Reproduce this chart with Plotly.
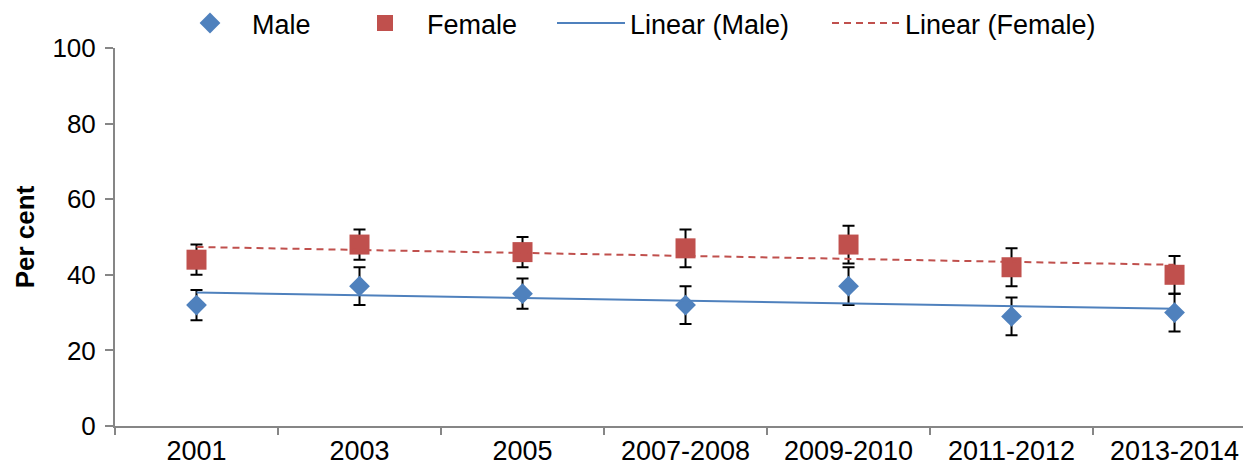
import numpy as np
import plotly.graph_objects as go

categories = ["2001", "2003", "2005", "2007-2008", "2009-2010", "2011-2012", "2013-2014"]
male = [32, 37, 35, 32, 37, 29, 30]
male_err = [4, 5, 4, 5, 5, 5, 5]
female = [44, 48, 46, 47, 48, 42, 40]
female_err = [4, 4, 4, 5, 5, 5, 5]

BLUE = "#4F81BD"
RED = "#C0504D"
AXIS = "#868686"
FONT = "Liberation Sans, Arial, sans-serif"

idx = np.arange(len(categories))
male_fit = np.polyval(np.polyfit(idx, male, 1), idx)
female_fit = np.polyval(np.polyfit(idx, female, 1), idx)

fig = go.Figure()
fig.add_trace(go.Scatter(
    x=categories, y=male, mode="markers", name="Male", legend="legend",
    marker=dict(symbol="diamond", size=16, color=BLUE, line=dict(width=0)),
    error_y=dict(type="data", array=male_err, color="black", thickness=2, width=6),
))
fig.add_trace(go.Scatter(
    x=categories, y=female, mode="markers", name="Female", legend="legend2",
    marker=dict(symbol="square", size=20, color=RED, line=dict(width=0)),
    error_y=dict(type="data", array=female_err, color="black", thickness=2, width=6),
))
fig.add_trace(go.Scatter(
    x=categories, y=male_fit, mode="lines", name="Linear (Male)", legend="legend3",
    line=dict(color=BLUE, width=2),
))
fig.add_trace(go.Scatter(
    x=categories, y=female_fit, mode="lines", name="Linear (Female)", legend="legend4",
    line=dict(color=RED, width=2, dash="7px,5px"),
))

W0, PW = 115, 1128
def px(x):
    return (x - W0) / PW

leg_common = dict(orientation="h", yanchor="middle", y=1.065, xanchor="left",
                  font=dict(family=FONT, size=27, color="black"),
                  bgcolor="rgba(0,0,0,0)", borderwidth=0, visible=True)

fig.update_layout(
    width=1243, height=467, showlegend=True,
    margin=dict(l=115, r=0, t=47.5, b=41, autoexpand=False),
    paper_bgcolor="white", plot_bgcolor="white",
    font=dict(family=FONT, size=26, color="black"),
    legend=dict(x=px(168), itemwidth=74, **leg_common),
    legend2=dict(x=px(343), itemwidth=74, **leg_common),
    legend3=dict(x=px(552), itemwidth=68, **leg_common),
    legend4=dict(x=px(827), itemwidth=68, **leg_common),
    xaxis=dict(
        type="category", range=[-0.5, 6.42], showline=True, linecolor=AXIS, linewidth=2,
        ticks="outside", ticklen=7, tickcolor=AXIS, tickwidth=2, tickson="boundaries",
        showgrid=False, zeroline=False, tickfont=dict(size=27, family=FONT), automargin=False,
    ),
    yaxis=dict(
        range=[0, 100], dtick=20, showline=True, linecolor=AXIS, linewidth=2,
        ticks="outside", ticklen=8, tickcolor=AXIS, tickwidth=2, ticklabelstandoff=4,
        showgrid=False, zeroline=False, tickfont=dict(size=26, family=FONT), automargin=False,
        title=dict(text="<b>Per cent</b>", font=dict(size=26, family=FONT), standoff=10),
    ),
)

fig.write_html("out.html", config={"displayModeBar": False},
               post_script="document.body.style.margin='0';document.body.style.padding='0';")
